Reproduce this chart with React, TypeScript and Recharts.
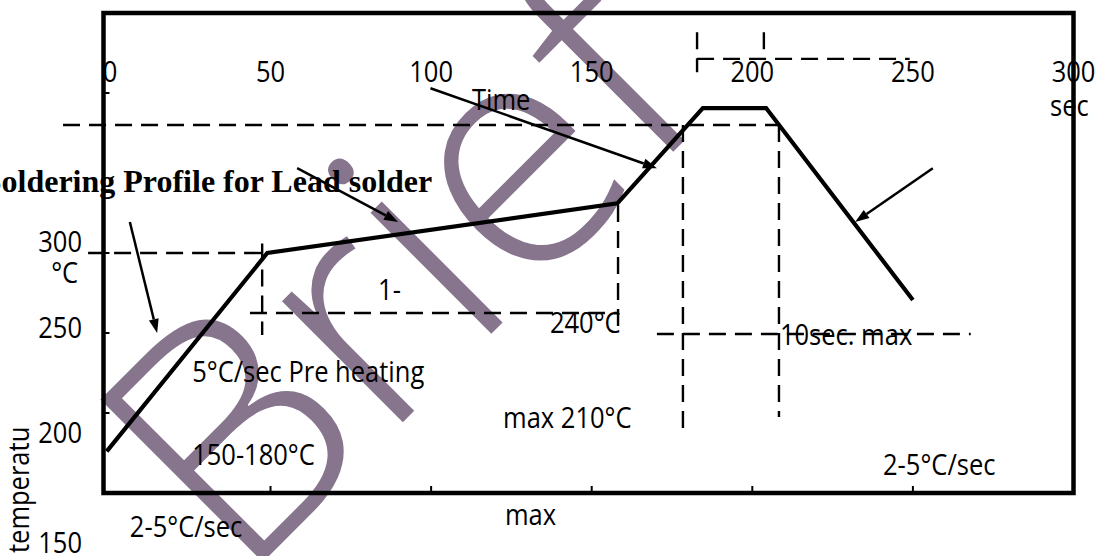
import React from "react";
import { LineChart, Line, XAxis, YAxis, ReferenceArea, ReferenceLine, ReferenceDot } from "recharts";

// reflow profile (time in sec, temperature)
const times = [-1, 49, 158, 184.6, 204.3, 250];
const temps = [176, 300, 331, 390.6, 390.6, 270.6];
const timeTicks = [0, 50, 100, 150, 200, 250, 300];
const bottomTicks = [50, 100, 150, 200, 250];
const tempTicks = [200, 250, 300, 400];

// dashed guide lines: [t1, temp1, t2, temp2]
const guides = [
  [-14.6, 380, 208.3, 380],
  [-6.8, 300, 49, 300],
  [47.4, 306, 47.4, 248.8],
  [43.6, 262.5, 158.2, 262.5],
  [158.2, 330, 158.2, 248.8],
  [178.4, 380, 178.4, 185.6],
  [208.3, 380, 208.3, 197.5],
  [170.3, 249.4, 268, 249.4],
  [182.8, 438, 182.8, 413],
  [203.6, 438, 203.6, 420.6],
  [182.8, 421.3, 249, 421.3],
];

// annotation arrows: [t1, temp1, t2, temp2]
const arrows = [
  [99.8, 403, 170.3, 353],
  [58.3, 353, 89.7, 319.4],
  [6.2, 319.4, 14.7, 250],
  [256.2, 353, 232, 319.4],
];

const notes = [
  { text: "Soldering Profile for Lead solder", t: -39.3, temp: 338, serif: true },
  { text: "Time", t: 112.7, temp: 389.5 },
  { text: "sec", t: 292.7, temp: 385.6 },
  { text: "300", t: -8.7, temp: 300.6, anchor: "end" },
  { text: "°C", t: -9.9, temp: 281.3, anchor: "end" },
  { text: "250", t: -8.7, temp: 246.9, anchor: "end" },
  { text: "200", t: -8.7, temp: 181.3, anchor: "end" },
  { text: "150", t: -8.7, temp: 112.5, anchor: "end" },
  { text: "temperatu", t: -25.2, temp: 112.5, rotate: -90 },
  { text: "5°C/sec Pre heating", t: 25.6, temp: 219.4 },
  { text: "150-180°C", t: 25.6, temp: 167.5 },
  { text: "2-5°C/sec", t: 6.2, temp: 122.5 },
  { text: "1-", t: 83.5, temp: 270.6 },
  { text: "240°C", t: 137, temp: 250 },
  { text: "max 210°C", t: 122.4, temp: 190.6 },
  { text: "max", t: 123, temp: 130 },
  { text: "10sec. max", t: 208.6, temp: 242.5 },
  { text: "2-5°C/sec", t: 240.7, temp: 161.3 },
];

const data = times.map((t, i) => ({ t, temp: temps[i] }));

const SANS = '"Open Sans", sans-serif';
const SERIF = '"Liberation Serif", "Times New Roman", serif';
const SQUEEZE = "scale(0.88 1)";

const noteShape = (n: any) => (p: any) => (
  <text
    transform={`translate(${p.cx} ${p.cy})${n.rotate ? ` rotate(${n.rotate})` : ""}${n.serif ? "" : " " + SQUEEZE}`}
    textAnchor={n.anchor ?? "start"}
    fontFamily={n.serif ? SERIF : SANS}
    fontWeight={n.serif ? 700 : 400}
    fontSize={n.serif ? 32 : 29}
    fill="#000"
  >
    {n.text}
  </text>
);

const arrowShape = (p: any) => {
  const { x1, y1, x2, y2 } = p;
  const len = Math.hypot(x2 - x1, y2 - y1);
  const ux = (x2 - x1) / len;
  const uy = (y2 - y1) / len;
  const bx = x2 - ux * 14;
  const by = y2 - uy * 14;
  return (
    <g>
      <line x1={x1} y1={y1} x2={bx} y2={by} stroke="#000" strokeWidth={2.5} />
      <polygon points={`${x2},${y2} ${bx - uy * 5},${by + ux * 5} ${bx + uy * 5},${by - ux * 5}`} fill="#000" />
    </g>
  );
};

const TopTick = (p: any) => (
  <text
    transform={`translate(${p.x} ${p.y + 69}) ${SQUEEZE}`}
    textAnchor="middle"
    fontFamily={SANS}
    fontSize={29}
    fill="#000"
  >
    {p.payload.value}
  </text>
);

const NoLabel = () => <g />;

export default function App() {
  return (
    <div style={{ position: "absolute", left: 0, top: 0, width: 1098, height: 556, background: "#fff", overflow: "hidden" }}>
      <svg width={1098} height={556} style={{ position: "absolute", left: 0, top: 0 }}>
        <text
          transform="translate(240 585) rotate(-45)"
          fontFamily={SANS}
          fontWeight={300}
          fontSize={322}
          fill="#86758d"
        >
          Brief
        </text>
      </svg>
      <div style={{ position: "absolute", left: 0, top: 0 }}>
        <LineChart width={1098} height={556} data={data} margin={{ top: 13, right: 24.5, bottom: 63, left: 103.5 }}>
          <XAxis
            dataKey="t"
            type="number"
            domain={[-2, 300]}
            allowDataOverflow
            ticks={bottomTicks}
            mirror
            axisLine={false}
            tickSize={7}
            tickLine={{ stroke: "#000", strokeWidth: 2 }}
            tick={NoLabel}
          />
          <XAxis
            xAxisId="top"
            orientation="top"
            dataKey="t"
            type="number"
            domain={[-2, 300]}
            allowDataOverflow
            ticks={timeTicks}
            mirror
            axisLine={false}
            tickLine={false}
            tickSize={0}
            tickMargin={0}
            tick={TopTick}
          />
          <YAxis
            type="number"
            domain={[150, 450]}
            allowDataOverflow
            ticks={tempTicks}
            mirror
            axisLine={false}
            tickSize={6}
            tickLine={{ stroke: "#000", strokeWidth: 2 }}
            tick={NoLabel}
          />
          <ReferenceArea x1={-2} x2={300} y1={150} y2={450} fill="none" stroke="#000" strokeWidth={4.5} ifOverflow="visible" />
          {guides.map((g, i) => (
            <ReferenceLine
              key={"g" + i}
              segment={[{ x: g[0], y: g[1] }, { x: g[2], y: g[3] }]}
              stroke="#000"
              strokeWidth={2.4}
              strokeDasharray="17 9"
              ifOverflow="visible"
            />
          ))}
          {arrows.map((a, i) => (
            <ReferenceLine
              key={"a" + i}
              segment={[{ x: a[0], y: a[1] }, { x: a[2], y: a[3] }]}
              ifOverflow="visible"
              shape={arrowShape}
            />
          ))}
          <Line
            dataKey="temp"
            type="linear"
            stroke="#000"
            strokeWidth={4.2}
            strokeLinejoin="miter"
            dot={false}
            activeDot={false}
            isAnimationActive={false}
          />
          {notes.map((n, i) => (
            <ReferenceDot key={"n" + i} x={n.t} y={n.temp} r={0} ifOverflow="visible" shape={noteShape(n)} />
          ))}
        </LineChart>
      </div>
    </div>
  );
}
